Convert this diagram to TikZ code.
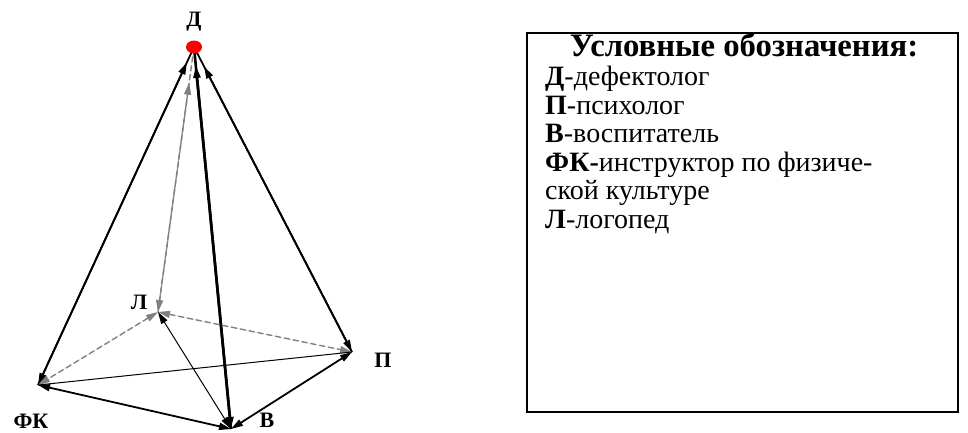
\documentclass[tikz,border=0pt]{standalone}
\usepackage{fontspec}
\setmainfont{Liberation Serif}
\usetikzlibrary{arrows.meta,positioning}

\begin{document}
\begin{tikzpicture}[
  x=1pt, y=-1pt, >={Triangle[length=12pt,width=7pt]},
  vlab/.style={font=\bfseries\fontsize{22}{22}\selectfont, inner sep=0pt},
  link/.style={line width=1.8pt, <->},
  hid/.style={draw=gray, fill=gray, dashed, dash pattern=on 6pt off 3pt, line width=1.4pt, <->},
  plainlink/.style={line width=1pt},
  legtxt/.style={font=\fontsize{28}{28.5}\selectfont, inner sep=0pt, align=left}
]
\useasboundingbox (0,0) rectangle (968,432);
% vertices of the pyramid
\coordinate (D) at (194,47);
\coordinate (L) at (158,312);
\coordinate (FK) at (38,385);
\coordinate (V) at (231,429);
\coordinate (P) at (352,352);
% lines up to the top point, tips stop below it
\draw[line width=1.8pt] (FK)--(D) (P)--(D);
\draw[line width=2.6pt] (V)--(D);
\draw[hid, -] (L)--(D);
\draw[link, shorten >=17pt] (FK)--(D);
\draw[link, shorten >=22pt] (P)--(D);
\draw[link, line width=2.6pt, shorten >=19pt] (V)--(D);
\draw[hid, shorten >=36pt] (L)--(D);
% base
\draw[hid] (L)--(FK); \draw[hid] (L)--(P);
\draw[plainlink, <->] (V)--(L);
\draw[plainlink] (FK)--(P);
\draw[link] (FK)--(V); \draw[link] (V)--(P);
\fill[red] (D) ellipse (8 and 6.5);
% vertex labels
\node[vlab] (Dl) at (194,22) {Д};
\node[vlab] (Ll) at (139,302) {Л};
\node[vlab] (FKl) at (31,421) {ФК};
\node[vlab] (Vl) at (267,420) {В};
\node[vlab] (Pl) at (383,360) {П};
% legend
\draw[line width=1.3pt] (527,33) rectangle (958,412);
\node[legtxt, font=\bfseries\fontsize{32.7}{33}\selectfont] (title) at (744,45) {Условные обозначения:};
\node[legtxt, anchor=north west] (items) at (545,66) {\textbf{Д}-дефектолог\\
\textbf{П}-психолог\\
\textbf{В}-воспитатель\\
\textbf{ФК-}инструктор по физиче-\\
ской культуре\\
\textbf{Л}-логопед};
\end{tikzpicture}
\end{document}
